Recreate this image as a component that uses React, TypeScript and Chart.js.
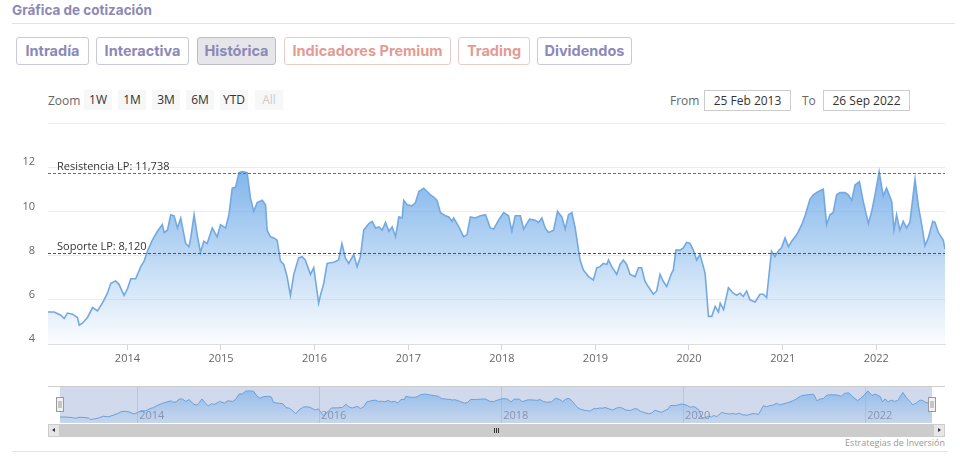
import React, { useEffect, useRef } from "react";
import { Chart, registerables } from "chart.js";

Chart.register(...registerables);

// ---------- data ----------
const DATES = [
  "2013-02-25","2013-03-21","2013-04-16","2013-04-29","2013-05-12","2013-06-01","2013-06-20","2013-06-27",
  "2013-07-10","2013-07-29","2013-08-18","2013-09-06","2013-09-25","2013-10-15","2013-10-28","2013-11-16",
  "2013-11-29","2013-12-19","2014-01-01","2014-01-14","2014-02-02","2014-02-22","2014-03-07","2014-03-20",
  "2014-04-08","2014-04-28","2014-05-17","2014-05-24","2014-06-06","2014-06-19","2014-07-02","2014-07-15",
  "2014-07-28","2014-08-16","2014-08-29","2014-09-05","2014-09-18","2014-09-30","2014-10-13","2014-10-26",
  "2014-11-08","2014-11-28","2014-12-17","2014-12-30","2015-01-19","2015-02-01","2015-02-14","2015-02-27",
  "2015-03-12","2015-03-25","2015-04-13","2015-04-26","2015-05-09","2015-05-22","2015-06-11","2015-06-24",
  "2015-06-30","2015-07-13","2015-07-26","2015-08-08","2015-08-21","2015-09-03","2015-09-16","2015-09-29",
  "2015-10-12","2015-10-31","2015-11-13","2015-11-26","2015-12-16","2015-12-29","2016-01-17","2016-01-24",
  "2016-02-06","2016-02-19","2016-03-16","2016-04-04","2016-04-17","2016-04-30","2016-05-13","2016-06-02",
  "2016-06-15","2016-06-28","2016-07-11","2016-07-31","2016-08-13","2016-08-26","2016-09-08","2016-09-21",
  "2016-10-04","2016-10-17","2016-10-30","2016-11-12","2016-11-25","2016-12-08","2016-12-14","2016-12-27",
  "2017-01-16","2017-01-29","2017-02-11","2017-03-02","2017-03-15","2017-03-28","2017-04-10","2017-04-23",
  "2017-05-06","2017-05-26","2017-06-08","2017-06-21","2017-06-27","2017-07-17","2017-08-05","2017-08-18",
  "2017-08-31","2017-09-19","2017-10-09","2017-10-29","2017-11-17","2017-11-30","2017-12-19","2018-01-08",
  "2018-01-27","2018-02-09","2018-02-22","2018-03-14","2018-03-27","2018-04-19","2018-05-11","2018-05-24",
  "2018-06-06","2018-06-19","2018-07-02","2018-07-22","2018-08-06","2018-08-23","2018-09-05","2018-09-18",
  "2018-10-01","2018-10-14","2018-10-27","2018-11-02","2018-11-15","2018-12-05","2018-12-24","2019-01-06",
  "2019-01-19","2019-02-01","2019-02-14","2019-02-21","2019-03-06","2019-03-25","2019-04-07","2019-04-20",
  "2019-05-03","2019-05-16","2019-06-05","2019-06-18","2019-06-30","2019-07-13","2019-07-26","2019-08-15",
  "2019-08-28","2019-09-10","2019-09-22","2019-10-06","2019-10-25","2019-11-01","2019-11-11","2019-11-27",
  "2019-12-10","2019-12-23","2020-01-05","2020-01-18","2020-01-31","2020-02-13","2020-02-26","2020-03-04",
  "2020-03-17","2020-03-30","2020-04-12","2020-04-25","2020-05-02","2020-05-15","2020-06-03","2020-06-22",
  "2020-07-05","2020-07-18","2020-07-31","2020-08-13","2020-08-26","2020-09-15","2020-10-04","2020-10-17",
  "2020-10-30","2020-11-18","2020-12-01","2020-12-14","2020-12-27","2021-01-10","2021-01-23","2021-02-05",
  "2021-02-25","2021-03-16","2021-03-29","2021-04-17","2021-04-30","2021-05-20","2021-06-08","2021-06-21",
  "2021-07-04","2021-07-17","2021-07-30","2021-08-12","2021-09-01","2021-09-14","2021-09-27","2021-10-10",
  "2021-10-27","2021-11-11","2021-12-01","2021-12-14","2021-12-27","2022-01-12","2022-01-28","2022-02-10",
  "2022-03-02","2022-03-11","2022-03-21","2022-04-03","2022-04-16","2022-04-29","2022-05-12","2022-06-01",
  "2022-06-14","2022-06-27","2022-07-10","2022-07-23","2022-08-09","2022-08-18","2022-08-31","2022-09-19",
  "2022-09-26",
];

const PRICES = [
  5.45, 5.45, 5.3, 5.15, 5.4, 5.35, 5.2, 4.85,
  4.95, 5.2, 5.65, 5.5, 5.85, 6.3, 6.75, 6.85,
  6.7, 6.2, 6.5, 6.95, 6.95, 7.5, 7.75, 8.2,
  8.7, 9.1, 9.4, 9.05, 9.15, 9.85, 9.8, 9.25,
  9.7, 8.55, 8.4, 8.8, 9.85, 8.95, 8.15, 8.65,
  8.55, 9.25, 8.85, 9.4, 9.25, 9.85, 11.05, 11.1,
  11.75, 11.8, 11.75, 10.6, 10.0, 10.4, 10.5, 10.3,
  9.15, 8.85, 8.8, 8.7, 7.75, 7.6, 7.05, 6.2,
  7.15, 7.9, 7.95, 7.8, 7.15, 7.45, 5.85, 6.2,
  6.75, 7.65, 7.7, 7.8, 8.55, 7.9, 7.65, 8.05,
  7.5, 7.95, 9.15, 9.45, 9.55, 9.25, 9.3, 9.15,
  9.5, 9.1, 9.3, 8.85, 9.75, 9.7, 10.5, 10.3,
  10.25, 10.4, 10.9, 11.05, 10.9, 10.75, 10.65, 10.5,
  9.95, 9.8, 9.75, 9.55, 9.7, 9.3, 8.85, 8.95,
  9.75, 9.7, 9.8, 9.85, 9.25, 9.2, 9.6, 9.95,
  9.8, 9.1, 9.8, 9.8, 9.2, 9.65, 9.6, 9.5,
  9.7, 9.25, 9.05, 9.15, 10.0, 9.75, 9.2, 9.85,
  9.95, 9.25, 8.25, 7.8, 7.35, 7.05, 6.9, 7.45,
  7.5, 7.65, 7.6, 7.8, 7.5, 7.15, 7.6, 7.8,
  7.6, 7.15, 7.05, 7.45, 7.45, 6.85, 6.6, 6.25,
  6.4, 7.15, 6.85, 6.6, 7.2, 7.35, 8.25, 8.25,
  8.35, 8.6, 8.55, 8.25, 7.8, 8.05, 7.5, 7.2,
  5.25, 5.25, 5.7, 5.45, 5.85, 5.55, 6.55, 6.3,
  6.2, 6.3, 6.15, 6.4, 6.0, 5.9, 6.25, 6.25,
  6.1, 8.2, 7.95, 8.2, 8.35, 8.8, 8.4, 8.65,
  8.95, 9.4, 9.8, 10.55, 10.75, 10.9, 11.0, 9.4,
  9.85, 9.95, 10.75, 10.85, 10.85, 10.75, 10.5, 11.2,
  11.35, 10.45, 9.45, 10.0, 10.75, 11.8, 10.7, 11.05,
  10.45, 9.15, 9.85, 9.15, 9.55, 9.25, 9.5, 11.45,
  10.25, 9.4, 8.45, 8.8, 9.55, 9.5, 9.05, 8.7,
  8.3,
];

const YEAR_TICKS = [2014, 2015, 2016, 2017, 2018, 2019, 2020, 2021, 2022];
const NAV_YEAR_TICKS = [2014, 2016, 2018, 2020, 2022];
const Y_TICKS = [4, 6, 8, 10, 12, 14];
const Y_MIN = 4;
const Y_MAX = 14;

const RESISTANCE = 11.738;
const SUPPORT = 8.12;
const RESISTANCE_LABEL = "Resistencia LP";
const SUPPORT_LABEL = "Soporte LP";

const TAB_LABELS = ["Intradía", "Interactiva", "Histórica", "Indicadores Premium", "Trading", "Dividendos"];
const RANGE_BUTTONS = ["1W", "1M", "3M", "6M", "YTD", "All"];
const FROM_TEXT = "25 Feb 2013";
const TO_TEXT = "26 Sep 2022";
const TITLE = "Gráfica de cotización";
const CREDITS = "Estrategias de Inversión";

// ---------- styles ----------
const FONT = "'Open Sans', 'DejaVu Sans', sans-serif";
const UI_FONT = "Inter, 'Noto Sans', sans-serif";
const LINE_COLOR = "#74a9e0";

const TAB_LAYOUT = [
  { left: 16, width: 73, kind: "p" },
  { left: 96, width: 93, kind: "p" },
  { left: 197, width: 79, kind: "active" },
  { left: 284, width: 167, kind: "r" },
  { left: 458, width: 72, kind: "r" },
  { left: 537, width: 95, kind: "p" },
];
const RANGE_LAYOUT = [84, 118, 152, 186, 220, 255];

const toMs = (d: string) => Date.parse(d + "T00:00:00Z");
const yearMs = (y: number) => Date.UTC(y, 0, 1);
const fmtEs = (v: number) => v.toFixed(3).replace(".", ",");

const POINTS = DATES.map((d, i) => ({ x: toMs(d), y: PRICES[i] }));
const X_MIN = POINTS[0].x;
const X_MAX = POINTS[POINTS.length - 1].x;

const PLOT_LINES = [
  { value: RESISTANCE, label: RESISTANCE_LABEL, color: "#2f9a2f" },
  { value: SUPPORT, label: SUPPORT_LABEL, color: "#c42020" },
];

const plotLinesPlugin = {
  id: "plotLines",
  afterDatasetsDraw(chart: any) {
    const { ctx, chartArea, scales } = chart;
    const y = scales.y;
    ctx.save();
    PLOT_LINES.forEach((pl) => {
      const py = Math.round(y.getPixelForValue(pl.value)) + 0.5;
      ctx.beginPath();
      ctx.setLineDash([3, 2]);
      ctx.lineWidth = 1;
      ctx.strokeStyle = pl.color;
      ctx.moveTo(chartArea.left, py);
      ctx.lineTo(chartArea.right, py);
      ctx.stroke();
      ctx.setLineDash([]);
      ctx.font = `11px ${FONT}`;
      ctx.fillStyle = "#333333";
      ctx.textAlign = "left";
      ctx.textBaseline = "alphabetic";
      ctx.fillText(`${pl.label}: ${fmtEs(pl.value)}`, chartArea.left + 9, py - 4);
    });
    ctx.restore();
  },
};

const navigatorPlugin = {
  id: "navDecor",
  beforeDatasetsDraw(chart: any) {
    const { ctx, chartArea, scales } = chart;
    ctx.save();
    ctx.fillStyle = "rgba(102,133,194,0.3)";
    ctx.fillRect(chartArea.left, chartArea.top, chartArea.right - chartArea.left, chartArea.bottom - chartArea.top);
    ctx.strokeStyle = "rgba(120,130,150,0.25)";
    ctx.lineWidth = 1;
    NAV_YEAR_TICKS.forEach((yr) => {
      const px = Math.round(scales.x.getPixelForValue(yearMs(yr))) + 0.5;
      ctx.beginPath();
      ctx.moveTo(px, chartArea.top);
      ctx.lineTo(px, chartArea.bottom);
      ctx.stroke();
    });
    ctx.strokeStyle = "#cccccc";
    ctx.beginPath();
    ctx.moveTo(48, 0.5);
    ctx.lineTo(945, 0.5);
    ctx.stroke();
    ctx.restore();
  },
  afterDatasetsDraw(chart: any) {
    const { ctx, chartArea, scales } = chart;
    ctx.save();
    ctx.font = `11px ${FONT}`;
    ctx.fillStyle = "rgba(120,130,150,0.75)";
    ctx.textAlign = "left";
    ctx.textBaseline = "middle";
    NAV_YEAR_TICKS.forEach((yr) => {
      const px = scales.x.getPixelForValue(yearMs(yr));
      ctx.fillText(String(yr), px + 2, 30);
    });
    [chartArea.left, chartArea.right].forEach((hx) => {
      const x0 = Math.round(hx) - 3.5;
      ctx.fillStyle = "#f2f2f2";
      ctx.strokeStyle = "#999999";
      ctx.fillRect(x0, 11.5, 7, 14);
      ctx.strokeRect(x0, 11.5, 7, 14);
      ctx.beginPath();
      ctx.moveTo(x0 + 2.5, 15);
      ctx.lineTo(x0 + 2.5, 22);
      ctx.moveTo(x0 + 4.5, 15);
      ctx.lineTo(x0 + 4.5, 22);
      ctx.stroke();
    });
    ctx.restore();
  },
};

function areaGradient(chart: any, topAlpha: number, bottomAlpha: number, fromMax: boolean) {
  const { ctx, chartArea, scales } = chart;
  if (!chartArea) return "rgba(124,178,234,0.5)";
  const top = fromMax ? scales.y.getPixelForValue(Math.max(...PRICES)) : chartArea.top;
  const g = ctx.createLinearGradient(0, top, 0, chartArea.bottom);
  g.addColorStop(0, `rgba(124,178,234,${topAlpha})`);
  g.addColorStop(1, `rgba(124,178,234,${bottomAlpha})`);
  return g;
}

export default function App() {
  const mainRef = useRef<HTMLCanvasElement>(null);
  const navRef = useRef<HTMLCanvasElement>(null);

  useEffect(() => {
    const main = new Chart(mainRef.current as HTMLCanvasElement, {
      type: "line",
      data: {
        datasets: [
          {
            data: POINTS,
            borderColor: LINE_COLOR,
            borderWidth: 1.6,
            pointRadius: 0,
            tension: 0,
            fill: "start",
            backgroundColor: (c: any) => areaGradient(c.chart, 0.95, 0.03, true),
          },
        ],
      },
      options: {
        animation: false,
        responsive: false,
        maintainAspectRatio: false,
        events: [],
        layout: { padding: { left: 0, right: 15, top: 8, bottom: 0 } },
        plugins: { legend: { display: false }, tooltip: { enabled: false } },
        scales: {
          x: {
            type: "linear",
            min: X_MIN,
            max: X_MAX,
            afterBuildTicks: (s: any) => {
              s.ticks = YEAR_TICKS.map((y) => ({ value: yearMs(y) }));
            },
            afterFit: (s: any) => {
              s.height = 26;
              s.paddingLeft = 0;
              s.paddingRight = 0;
            },
            grid: { drawOnChartArea: false, drawTicks: true, tickLength: 6, color: "#ccd6eb" },
            border: { display: true, color: "#dedede" },
            ticks: {
              autoSkip: false,
              maxRotation: 0,
              padding: 2,
              color: "#666666",
              font: { family: FONT, size: 11 },
              callback: (v: any) => String(new Date(v).getUTCFullYear()),
            },
          },
          y: {
            min: Y_MIN,
            max: Y_MAX,
            afterBuildTicks: (s: any) => {
              s.ticks = Y_TICKS.map((v) => ({ value: v }));
            },
            afterFit: (s: any) => {
              s.width = 48;
              s.paddingTop = 0;
              s.paddingBottom = 0;
            },
            grid: { color: "#ececec", drawTicks: false },
            border: { display: false },
            ticks: {
              padding: 13,
              labelOffset: -5,
              color: "#666666",
              font: { family: FONT, size: 11 },
              callback: (v: any) => (v === Y_MAX ? "" : String(v)),
            },
          },
        },
      },
      plugins: [plotLinesPlugin],
    } as any);

    const nav = new Chart(navRef.current as HTMLCanvasElement, {
      type: "line",
      data: {
        datasets: [
          {
            data: POINTS,
            borderColor: "#6c9fd9",
            borderWidth: 1,
            pointRadius: 0,
            tension: 0,
            fill: "start",
            backgroundColor: (c: any) => areaGradient(c.chart, 0.8, 0.1, false),
          },
        ],
      },
      options: {
        animation: false,
        responsive: false,
        maintainAspectRatio: false,
        events: [],
        layout: { padding: { left: 60, right: 28, top: 0, bottom: 0 } },
        plugins: { legend: { display: false }, tooltip: { enabled: false } },
        scales: {
          x: { type: "linear", min: X_MIN, max: X_MAX, display: false },
          y: { min: 4, max: 13, display: false },
        },
      },
      plugins: [navigatorPlugin],
    } as any);

    return () => {
      main.destroy();
      nav.destroy();
    };
  }, []);

  const tabColor = (kind: string) =>
    kind === "r"
      ? { color: "#e39b94", border: "#e9cdca", bg: "#ffffff" }
      : kind === "active"
      ? { color: "#8c88b9", border: "#bcbcc8", bg: "#e5e5ea" }
      : { color: "#8c88b9", border: "#cac8dc", bg: "#ffffff" };

  return (
    <div
      style={{
        position: "absolute",
        left: 0,
        top: 0,
        width: 960,
        height: 465,
        background: "#ffffff",
        overflow: "hidden",
        fontFamily: FONT,
      }}
    >
      <div
        style={{
          position: "absolute",
          left: 12,
          top: 2,
          fontFamily: UI_FONT,
          fontWeight: 700,
          fontSize: 13.5,
          color: "#8c88b5",
          whiteSpace: "nowrap",
        }}
      >
        {TITLE}
      </div>
      <div style={{ position: "absolute", left: 12, top: 23, width: 943, height: 1, background: "#e3e3e3" }} />

      {TAB_LABELS.map((t, i) => {
        const L = TAB_LAYOUT[i];
        const c = tabColor(L.kind);
        return (
          <div
            key={t}
            style={{
              position: "absolute",
              left: L.left,
              top: 37,
              width: L.width,
              height: 28,
              boxSizing: "border-box",
              border: `1px solid ${c.border}`,
              borderRadius: 3,
              background: c.bg,
              color: c.color,
              fontFamily: UI_FONT,
              fontWeight: 700,
              fontSize: 14.5,
              lineHeight: "26px",
              textAlign: "center",
              whiteSpace: "nowrap",
            }}
          >
            {t}
          </div>
        );
      })}

      <div style={{ position: "absolute", left: 48, top: 92, fontSize: 12, color: "#666666" }}>Zoom</div>
      {RANGE_BUTTONS.map((b, i) => (
        <div
          key={b}
          style={{
            position: "absolute",
            left: RANGE_LAYOUT[i],
            top: 90,
            width: 28,
            height: 20,
            background: "#f7f7f7",
            color: b === "All" ? "#cccccc" : "#333333",
            fontSize: 12,
            lineHeight: "20px",
            textAlign: "center",
          }}
        >
          {b}
        </div>
      ))}

      <div style={{ position: "absolute", left: 670, top: 92, fontSize: 12, color: "#666666" }}>From</div>
      <div
        style={{
          position: "absolute",
          left: 704,
          top: 90,
          width: 87,
          height: 21,
          boxSizing: "border-box",
          border: "1px solid #cccccc",
          fontSize: 12,
          color: "#333333",
          lineHeight: "19px",
          textAlign: "center",
        }}
      >
        {FROM_TEXT}
      </div>
      <div style={{ position: "absolute", left: 802, top: 92, fontSize: 12, color: "#666666" }}>To</div>
      <div
        style={{
          position: "absolute",
          left: 823,
          top: 90,
          width: 87,
          height: 21,
          boxSizing: "border-box",
          border: "1px solid #cccccc",
          fontSize: 12,
          color: "#333333",
          lineHeight: "19px",
          textAlign: "center",
        }}
      >
        {TO_TEXT}
      </div>

      <canvas
        ref={mainRef}
        width={960}
        height={255}
        style={{ position: "absolute", left: 0, top: 115, width: 960, height: 255 }}
      />
      <canvas
        ref={navRef}
        width={960}
        height={37}
        style={{ position: "absolute", left: 0, top: 386, width: 960, height: 37 }}
      />

      {/* scrollbar */}
      <div style={{ position: "absolute", left: 48, top: 424, width: 897, height: 13, background: "#f2f2f2" }} />
      <div style={{ position: "absolute", left: 60, top: 424, width: 873, height: 13, background: "#cccccc" }} />
      <div
        style={{
          position: "absolute",
          left: 48,
          top: 424,
          width: 12,
          height: 13,
          boxSizing: "border-box",
          background: "#e6e6e6",
          border: "1px solid #cccccc",
        }}
      >
        <div
          style={{
            position: "absolute",
            left: 3,
            top: 3,
            width: 0,
            height: 0,
            borderTop: "2.5px solid transparent",
            borderBottom: "2.5px solid transparent",
            borderRight: "3px solid #333333",
          }}
        />
      </div>
      <div
        style={{
          position: "absolute",
          left: 933,
          top: 424,
          width: 12,
          height: 13,
          boxSizing: "border-box",
          background: "#e6e6e6",
          border: "1px solid #cccccc",
        }}
      >
        <div
          style={{
            position: "absolute",
            left: 4,
            top: 3,
            width: 0,
            height: 0,
            borderTop: "2.5px solid transparent",
            borderBottom: "2.5px solid transparent",
            borderLeft: "3px solid #333333",
          }}
        />
      </div>
      {[0, 2, 4].map((d) => (
        <div
          key={d}
          style={{ position: "absolute", left: 494 + d, top: 428, width: 1, height: 5, background: "#333333" }}
        />
      ))}

      <div
        style={{
          position: "absolute",
          right: 15,
          top: 436,
          fontSize: 9,
          color: "#999999",
          whiteSpace: "nowrap",
        }}
      >
        {CREDITS}
      </div>
      <div style={{ position: "absolute", left: 12, top: 451, width: 936, height: 1, background: "#e6e6e6" }} />
    </div>
  );
}
